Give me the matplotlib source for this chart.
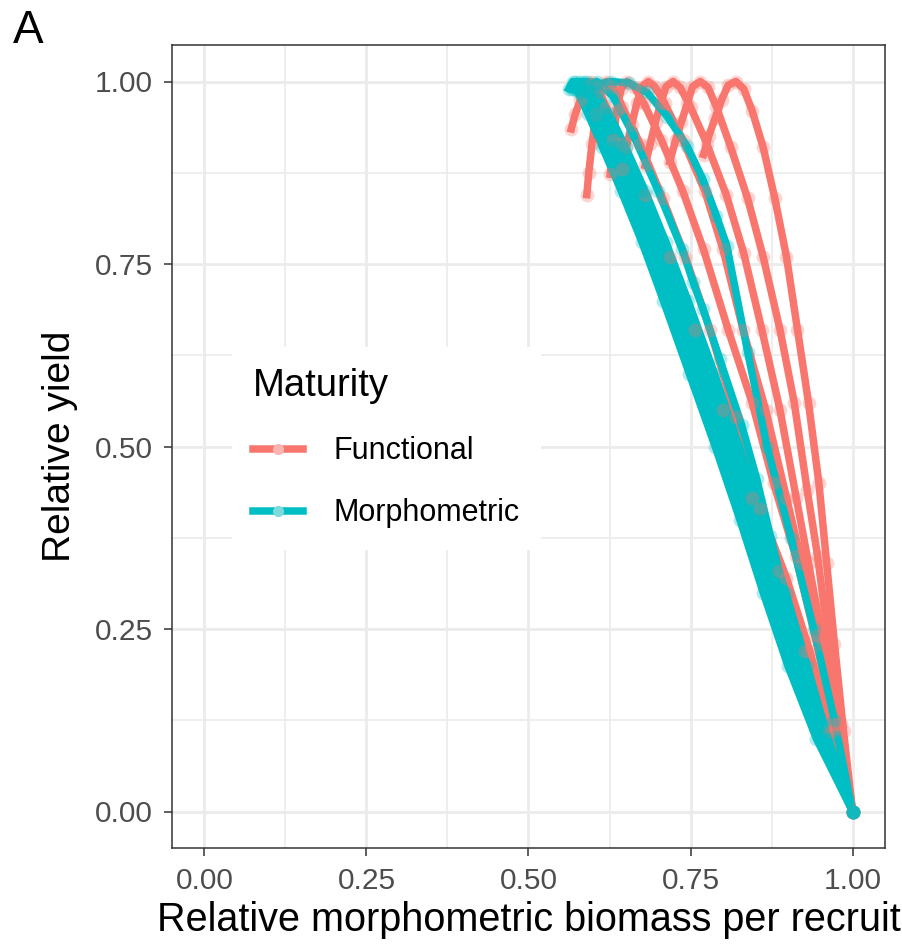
import matplotlib
matplotlib.use("Agg")
import matplotlib.pyplot as plt
from matplotlib.lines import Line2D
from matplotlib.ticker import MultipleLocator, FixedLocator

RED = "#F8766D"
TEAL = "#00BFC4"
RED_KEY = "#FBB5B0"
TEAL_KEY = "#7FDADD"

# Functional maturity curves (biomass, yield)
func_x = [
    [1.0, 0.986, 0.972, 0.96, 0.948, 0.932, 0.915, 0.898, 0.88, 0.862, 0.845, 0.832, 0.82, 0.808, 0.798, 0.788, 0.778, 0.77],
    [1.0, 0.982, 0.962, 0.946, 0.93, 0.91, 0.888, 0.862, 0.838, 0.812, 0.79, 0.777, 0.765, 0.753, 0.745, 0.736, 0.727, 0.718],
    [1.0, 0.978, 0.955, 0.932, 0.913, 0.888, 0.86, 0.832, 0.805, 0.775, 0.75, 0.734, 0.723, 0.712, 0.704, 0.696, 0.688, 0.68],
    [1.0, 0.975, 0.948, 0.922, 0.898, 0.866, 0.831, 0.80, 0.772, 0.738, 0.71, 0.695, 0.685, 0.675, 0.667, 0.659, 0.651, 0.644],
    [1.0, 0.972, 0.942, 0.912, 0.878, 0.845, 0.808, 0.77, 0.738, 0.705, 0.678, 0.663, 0.652, 0.643, 0.636, 0.631, 0.626],
    [1.0, 0.968, 0.934, 0.898, 0.857, 0.82, 0.78, 0.742, 0.707, 0.672, 0.645, 0.631, 0.62, 0.611, 0.604, 0.598, 0.593, 0.59],
    [1.0, 0.964, 0.926, 0.886, 0.845, 0.8, 0.757, 0.718, 0.68, 0.645, 0.62, 0.606, 0.597, 0.588, 0.58, 0.572, 0.566],
]
func_y = [
    [0.0, 0.11, 0.23, 0.34, 0.45, 0.56, 0.66, 0.76, 0.84, 0.91, 0.96, 0.99, 1.0, 0.995, 0.975, 0.95, 0.925, 0.90],
    [0.0, 0.12, 0.24, 0.35, 0.44, 0.56, 0.66, 0.76, 0.84, 0.91, 0.965, 0.992, 1.0, 0.993, 0.97, 0.945, 0.92, 0.89],
    [0.0, 0.12, 0.23, 0.34, 0.43, 0.55, 0.66, 0.765, 0.845, 0.915, 0.965, 0.992, 1.0, 0.993, 0.97, 0.945, 0.915, 0.885],
    [0.0, 0.12, 0.24, 0.34, 0.43, 0.55, 0.66, 0.77, 0.85, 0.92, 0.97, 0.993, 1.0, 0.993, 0.97, 0.94, 0.91, 0.88],
    [0.0, 0.12, 0.24, 0.35, 0.45, 0.56, 0.66, 0.77, 0.85, 0.92, 0.97, 0.993, 1.0, 0.99, 0.96, 0.92, 0.873],
    [0.0, 0.11, 0.22, 0.32, 0.415, 0.54, 0.66, 0.76, 0.84, 0.915, 0.965, 0.993, 1.0, 0.985, 0.955, 0.915, 0.875, 0.845],
    [0.0, 0.11, 0.22, 0.33, 0.43, 0.55, 0.66, 0.76, 0.845, 0.915, 0.965, 0.993, 1.0, 0.993, 0.975, 0.955, 0.935],
]

# Morphometric maturity curves: dense bundle plus two stragglers
morph_bundle_y = [0.0, 0.1, 0.2, 0.3, 0.4, 0.5, 0.6, 0.7, 0.78, 0.85, 0.91, 0.955, 0.985, 1.0, 0.99]
morph_bundle_x = [
    [1.0, 0.944, 0.900, 0.862, 0.826, 0.788, 0.748, 0.708, 0.675, 0.643, 0.614, 0.592, 0.576, 0.568, 0.562],
    [1.0, 0.949, 0.908, 0.871, 0.835, 0.797, 0.758, 0.717, 0.684, 0.652, 0.623, 0.600, 0.583, 0.574, 0.567],
    [1.0, 0.953, 0.915, 0.880, 0.844, 0.806, 0.768, 0.727, 0.693, 0.661, 0.632, 0.608, 0.590, 0.579, 0.572],
    [1.0, 0.958, 0.922, 0.888, 0.853, 0.815, 0.777, 0.736, 0.703, 0.670, 0.641, 0.616, 0.597, 0.585, 0.578],
    [1.0, 0.962, 0.930, 0.897, 0.862, 0.825, 0.787, 0.746, 0.712, 0.680, 0.650, 0.625, 0.605, 0.590, 0.583],
]
morph_extra_x = [
    [1.0, 0.972, 0.94, 0.905, 0.868, 0.838, 0.806, 0.79, 0.769, 0.745, 0.714, 0.683, 0.655, 0.627, 0.605, 0.592],
    [1.0, 0.955, 0.912, 0.873, 0.852, 0.829, 0.795, 0.769, 0.754, 0.737, 0.70, 0.66, 0.63, 0.605, 0.59],
]
morph_extra_y = [
    [0.0, 0.125, 0.25, 0.375, 0.5, 0.63, 0.775, 0.816, 0.866, 0.911, 0.952, 0.985, 0.998, 1.0, 0.996, 0.988],
    [0.0, 0.12, 0.24, 0.378, 0.456, 0.529, 0.62, 0.689, 0.725, 0.77, 0.85, 0.93, 0.98, 1.0, 0.99],
]

ticks = [0.0, 0.25, 0.5, 0.75, 1.0]
tick_labels = ["0.00", "0.25", "0.50", "0.75", "1.00"]

plt.rcParams["font.family"] = ["Liberation Sans", "DejaVu Sans"]

LW = 5.4
MS = 10

fig = plt.figure(figsize=(9.02, 9.49), dpi=100)
ax = fig.add_axes([172 / 902, 1 - 848 / 949, 713 / 902, 803 / 949])

func_curves = list(zip(func_x, func_y))
morph_curves = [(x, morph_bundle_y) for x in morph_bundle_x] + list(zip(morph_extra_x, morph_extra_y))

for x, y in func_curves:
    ax.plot(x, y, color=RED, lw=LW, solid_joinstyle="round", zorder=2)
for x, y in morph_curves:
    ax.plot(x, y, color=TEAL, lw=LW, solid_joinstyle="round", zorder=3)
for x, y in func_curves:
    ax.plot(x, y, "o", color=RED, ms=MS, mew=0, alpha=0.3, zorder=4)
for x, y in morph_curves:
    ax.plot(x, y, "o", color=TEAL, ms=MS, mew=0, alpha=0.3, zorder=5)

ax.set_xlim(-0.05, 1.05)
ax.set_ylim(-0.05, 1.05)
ax.xaxis.set_major_locator(FixedLocator(ticks))
ax.yaxis.set_major_locator(FixedLocator(ticks))
ax.set_xticklabels(tick_labels)
ax.set_yticklabels(tick_labels)
ax.xaxis.set_minor_locator(MultipleLocator(0.125))
ax.yaxis.set_minor_locator(MultipleLocator(0.125))
ax.grid(which="major", color="#EBEBEB", lw=2.0, zorder=0)
ax.grid(which="minor", color="#EBEBEB", lw=1.2, zorder=0)
ax.set_axisbelow(True)
ax.tick_params(which="major", length=6, width=1.1, color="#333333",
               labelsize=21.5, labelcolor="#4D4D4D", pad=8)
ax.tick_params(which="minor", length=0)
for s in ax.spines.values():
    s.set_color("#333333")
    s.set_linewidth(1.1)

ax.set_xlabel("Relative morphometric biomass per recruit", fontsize=28.5, labelpad=4)
ax.set_ylabel("Relative yield", fontsize=28, labelpad=12)

handles = [
    Line2D([], [], color=RED, lw=LW, marker="o", ms=8, mfc=RED_KEY, mec=RED_KEY, mew=0),
    Line2D([], [], color=TEAL, lw=LW, marker="o", ms=8, mfc=TEAL_KEY, mec=TEAL_KEY, mew=0),
]
leg = ax.legend(handles, ["Functional", "Morphometric"], title="Maturity",
                loc="upper left", bbox_to_anchor=(0.084, 0.624), borderaxespad=0,
                fontsize=22, title_fontsize=27.5, frameon=True, fancybox=False,
                numpoints=1, handlelength=1.64, handletextpad=1.0, labelspacing=1.05,
                borderpad=0.7, alignment="left")
leg.get_frame().set_facecolor("white")
leg.get_frame().set_edgecolor("none")
leg.get_frame().set_alpha(1)

fig.text(13 / 902, 1 - 43 / 949, "A", fontsize=33, va="baseline")

fig.savefig("out.png", dpi=100)
